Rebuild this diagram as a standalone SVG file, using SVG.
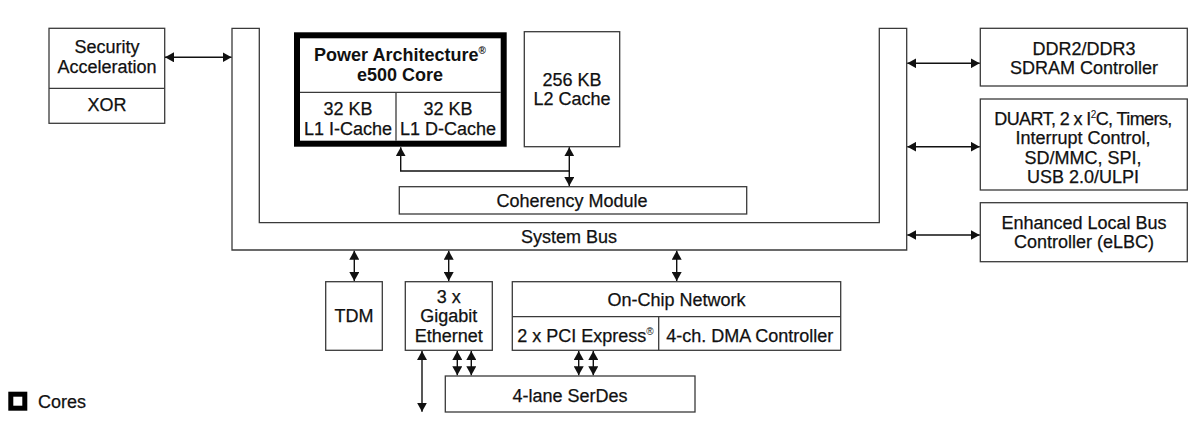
<svg xmlns="http://www.w3.org/2000/svg" width="1200" height="428" viewBox="0 0 1200 428">
<style>
.box{fill:#fff;stroke:#3a3a3a;stroke-width:1.3}
.ln{fill:none;stroke:#3a3a3a;stroke-width:1.3}
.core{fill:#fff;stroke:#000;stroke-width:6}
text{font-family:"Liberation Sans",Arial,Helvetica,sans-serif;font-size:18px;fill:#111;stroke:#111;stroke-width:0.25;text-anchor:middle}
.b{font-weight:bold}
.sup{font-size:10px;stroke-width:0}
.con{fill:none;stroke:#111;stroke-width:1.4;marker-start:url(#ah);marker-end:url(#ah)}
.con1{fill:none;stroke:#111;stroke-width:1.4;marker-end:url(#ah)}
</style>
<defs>
<marker id="ah" viewBox="0 0 9 10" refX="9" refY="5" markerWidth="9" markerHeight="10" markerUnits="userSpaceOnUse" orient="auto-start-reverse">
<path d="M0,0 L9,5 L0,10 z" fill="#111"/>
</marker>
</defs>
<rect width="1200" height="428" fill="#fff"/>

<g id="system-bus">
<path class="ln" d="M232,28.3 V250 H906.7 V28.3 H879.3 V222.7 H259.3 V28.3 Z"/>
<text x="569" y="242.9">System Bus</text>
</g>

<g id="security">
<rect class="box" x="49" y="28.3" width="115.7" height="95"/>
<line class="ln" x1="49" y1="88.3" x2="164.7" y2="88.3"/>
<text x="107" y="52.9">Security</text>
<text x="107" y="72.9">Acceleration</text>
<text x="107" y="111.2">XOR</text>
</g>

<g id="e500-core">
<rect class="core" x="297" y="35.3" width="206.7" height="108.4"/>
<line class="ln" x1="300" y1="92.3" x2="500.7" y2="92.3"/>
<line class="ln" x1="396" y1="92.3" x2="396" y2="140.7"/>
<text class="b" x="400" y="61.2" style="stroke-width:0">Power Architecture<tspan class="sup" dy="-7">®</tspan></text>
<text class="b" x="400" y="81.2" style="stroke-width:0">e500 Core</text>
<text x="348" y="114.5">32 KB</text>
<text x="348" y="134.5">L1 I-Cache</text>
<text x="448" y="114.5">32 KB</text>
<text x="448" y="134.5">L1 D-Cache</text>
</g>

<g id="l2-cache">
<rect class="box" x="524.3" y="31.7" width="95.4" height="115"/>
<text x="572" y="85.5">256 KB</text>
<text x="572" y="105.2">L2 Cache</text>
</g>

<g id="coherency">
<rect class="box" x="399.3" y="186.7" width="347.4" height="27.3"/>
<text x="572" y="207.2">Coherency Module</text>
</g>

<g id="ddr">
<rect class="box" x="980.3" y="28.3" width="207" height="57.7"/>
<text x="1084" y="54.5">DDR2/DDR3</text>
<text x="1084" y="73.9">SDRAM Controller</text>
</g>

<g id="duart">
<rect class="box" x="980.3" y="99" width="207" height="91"/>
<text x="1083" y="124.5" letter-spacing="-0.6">DUART, 2 x I<tspan class="sup" dy="-7">2</tspan><tspan dy="7">C, Timers,</tspan></text>
<text x="1083" y="143.9">Interrupt Control,</text>
<text x="1083" y="163.5">SD/MMC, SPI,</text>
<text x="1083" y="182.9">USB 2.0/ULPI</text>
</g>

<g id="elbc">
<rect class="box" x="980.3" y="202.7" width="207" height="59"/>
<text x="1084" y="228.5">Enhanced Local Bus</text>
<text x="1084" y="247.9">Controller (eLBC)</text>
</g>

<g id="tdm">
<rect class="box" x="325.7" y="281.7" width="56.6" height="68.6"/>
<text x="354" y="322.2">TDM</text>
</g>

<g id="gigabit">
<rect class="box" x="405.3" y="281.7" width="87" height="68.6"/>
<text x="448.8" y="302.9">3 x</text>
<text x="448.8" y="322.2">Gigabit</text>
<text x="448.8" y="342.2">Ethernet</text>
</g>

<g id="on-chip-network">
<rect class="box" x="512.3" y="281.7" width="328.4" height="68.6"/>
<line class="ln" x1="512.3" y1="316.7" x2="840.7" y2="316.7"/>
<line class="ln" x1="658.7" y1="316.7" x2="658.7" y2="350.3"/>
<text x="676.5" y="306.2">On-Chip Network</text>
<text x="585.5" y="342.2">2 x PCI Express<tspan class="sup" dy="-7">®</tspan></text>
<text x="749.7" y="342.2">4-ch. DMA Controller</text>
</g>

<g id="serdes">
<rect class="box" x="445.3" y="376" width="249.7" height="36"/>
<text x="570" y="401.5">4-lane SerDes</text>
</g>

<g id="legend">
<rect x="10.8" y="394.2" width="14" height="14" fill="#fff" stroke="#000" stroke-width="5"/>
<text x="38" y="408.2" style="text-anchor:start">Cores</text>
</g>

<g id="connectors">
<line class="con" x1="165" y1="57.3" x2="231.5" y2="57.3"/>
<line class="con" x1="907.3" y1="63.3" x2="979.7" y2="63.3"/>
<line class="con" x1="907.3" y1="146.7" x2="979.7" y2="146.7"/>
<line class="con" x1="907.3" y1="235" x2="979.7" y2="235"/>
<path class="con1" d="M569.3,171 H400.7 V147.3"/>
<line class="con" x1="569.3" y1="147.3" x2="569.3" y2="186"/>
<line class="con" x1="354.3" y1="250.7" x2="354.3" y2="281"/>
<line class="con" x1="448.7" y1="250.7" x2="448.7" y2="281"/>
<line class="con" x1="676.7" y1="250.7" x2="676.7" y2="281"/>
<line class="con" x1="457.3" y1="351" x2="457.3" y2="375.3"/>
<line class="con" x1="471.3" y1="351" x2="471.3" y2="375.3"/>
<line class="con" x1="578.7" y1="351" x2="578.7" y2="375.3"/>
<line class="con" x1="593.3" y1="351" x2="593.3" y2="375.3"/>
<line class="con" x1="422" y1="351" x2="422" y2="411.7"/>
</g>
</svg>
